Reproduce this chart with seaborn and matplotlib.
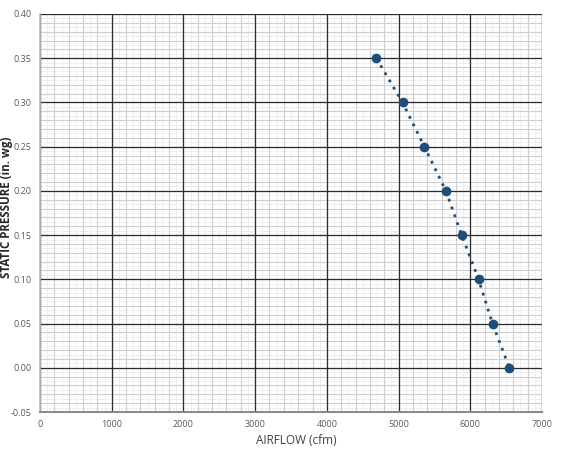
import numpy as np
import pandas as pd
import matplotlib
matplotlib.use("Agg")
import matplotlib.pyplot as plt
from matplotlib.ticker import MultipleLocator, FormatStrFormatter
import seaborn as sns

airflow = [4690, 5055, 5360, 5660, 5880, 6115, 6310, 6545]
pressure = [0.35, 0.30, 0.25, 0.20, 0.15, 0.10, 0.05, 0.00]
xlabel = "AIRFLOW (cfm)"
ylabel = "STATIC PRESSURE (in. wg)"
xlim = (0, 7000)
ylim = (-0.05, 0.40)

df = pd.DataFrame({"airflow": airflow, "pressure": pressure})

sns.set_theme(style="white")
plt.rcParams["font.family"] = ["Open Sans", "DejaVu Sans"]

fig = plt.figure(figsize=(5.63, 4.5), dpi=100)
rect = [40 / 563, 1 - 412 / 450, 502 / 563, 398 / 450]

# layered axes (not shared, so each keeps its own tick locators)
axb = fig.add_axes(rect, zorder=0)
axb2 = fig.add_axes(rect, zorder=0.5)
ax = fig.add_axes(rect, zorder=1)
axb2.patch.set_alpha(0)
ax.patch.set_alpha(0)

color = "#1f4e79"
sns.lineplot(data=df, x="airflow", y="pressure", ax=ax, color=color,
             linestyle=(0, (1, 2)), linewidth=2.0, marker="o",
             markersize=7, markeredgewidth=0, markerfacecolor=color,
             sort=False, zorder=5)

for a in (axb, axb2, ax):
    a.set_xlim(*xlim)
    a.set_ylim(*ylim)

# faint grid (100 / 0.005)
axb.xaxis.set_major_locator(MultipleLocator(100))
axb.yaxis.set_major_locator(MultipleLocator(0.005))
axb.grid(True, which="major", color="#f0f0f0", linewidth=0.8)
# grey grid (200 / 0.01)
axb2.xaxis.set_major_locator(MultipleLocator(200))
axb2.yaxis.set_major_locator(MultipleLocator(0.01))
axb2.grid(True, which="major", color="#cfcfcf", linewidth=0.8)
for a in (axb, axb2):
    a.tick_params(which="both", length=0, labelbottom=False, labelleft=False)
    a.set_xlabel("")
    a.set_ylabel("")
    for s in a.spines.values():
        s.set_visible(False)

# main grid (1000 / 0.05)
ax.xaxis.set_major_locator(MultipleLocator(1000))
ax.yaxis.set_major_locator(MultipleLocator(0.05))
ax.yaxis.set_major_formatter(FormatStrFormatter("%.2f"))
ax.grid(which="major", color="#2b2b2b", linewidth=0.9)
ax.set_axisbelow(True)

for s in ["top", "right"]:
    ax.spines[s].set_visible(False)
ax.spines["left"].set_color("#bfbfbf")
ax.spines["bottom"].set_color("#8c8c8c")
ax.spines["bottom"].set_linewidth(1.5)

ax.tick_params(axis="both", which="both", length=0, labelsize=6.5,
               labelcolor="#595959", pad=6)

ax.set_xlabel(xlabel, fontsize=8.5, color="#404040", labelpad=4)
ax.xaxis.set_label_coords(0.51, -0.055)
ax.set_ylabel(ylabel, fontsize=8.3, color="#262626", fontweight="bold")
ax.yaxis.set_label_coords(-0.054, 0.515)

fig.savefig("out.png", dpi=100)
